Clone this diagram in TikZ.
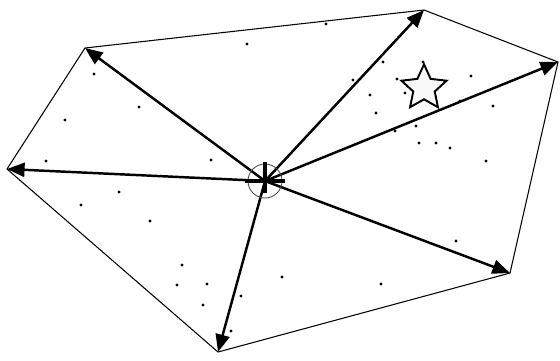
\documentclass[tikz,border=0pt]{standalone}
\usepackage{tikz}
\usetikzlibrary{arrows.meta, shapes.geometric}

\tikzset{
  hull/.style={black, line width=0.6pt},
  ray/.style={black, line width=1.4pt, -{Triangle[length=10pt, width=8pt]}},
  pt/.style={black},
}

\begin{document}
\begin{tikzpicture}[x=0.02cm, y=-0.02cm]
				\useasboundingbox (0,0) rectangle (560,360);
				% hull corners and centre
				\coordinate (a) at (85,48);
				\coordinate (b) at (424,10);
				\coordinate (c) at (558,62);
				\coordinate (d) at (510,273);
				\coordinate (e) at (218,352);
				\coordinate (f) at (7,169);
				\coordinate (ctr) at (265,181);
				\draw[hull] (a) -- (b) -- (c) -- (d) -- (e) -- (f) -- cycle;
				% sample points
				\foreach \p in {(247,44),(94,74),(139,107),(65,120),(46,161),(211,160),
					(326,24),(383,62),(423,62),(353,80),(397,79),(471,76),(370,95),
					(405,93),(376,113),(493,106),(460,101),(416,126),(395,131),
					(419,143),(436,143),(450,148),(486,161),(119,192),(81,205),
					(150,221),(182,265),(177,285),(207,284),(203,305),(241,296),
					(231,331),(456,241),(282,277),(381,284)}
					\fill[pt] \p circle (1.6);
				% rays
				\draw[ray] (ctr) -- (a);
				\draw[ray] (ctr) -- (b);
				\draw[ray] (ctr) -- (c);
				\draw[ray] (ctr) -- (d);
				\draw[ray] (ctr) -- (e);
				\draw[ray] (ctr) -- (f);
				% centre mark
				\draw[black!70, line width=0.5pt] (ctr) circle (17);
				\draw[black, line width=1.8pt] ([xshift=-20*0.02cm]ctr) -- ([xshift=20*0.02cm]ctr);
				\draw[black, line width=1.8pt] ([yshift=19*0.02cm]ctr) -- ([yshift=-12*0.02cm]ctr);
				\node[star, star points=5, star point ratio=2.1, minimum size=27pt,
					inner sep=0pt, draw, line width=1.1pt, fill=gray!5] (goal) at (424,88) {};
\end{tikzpicture}
\end{document}
